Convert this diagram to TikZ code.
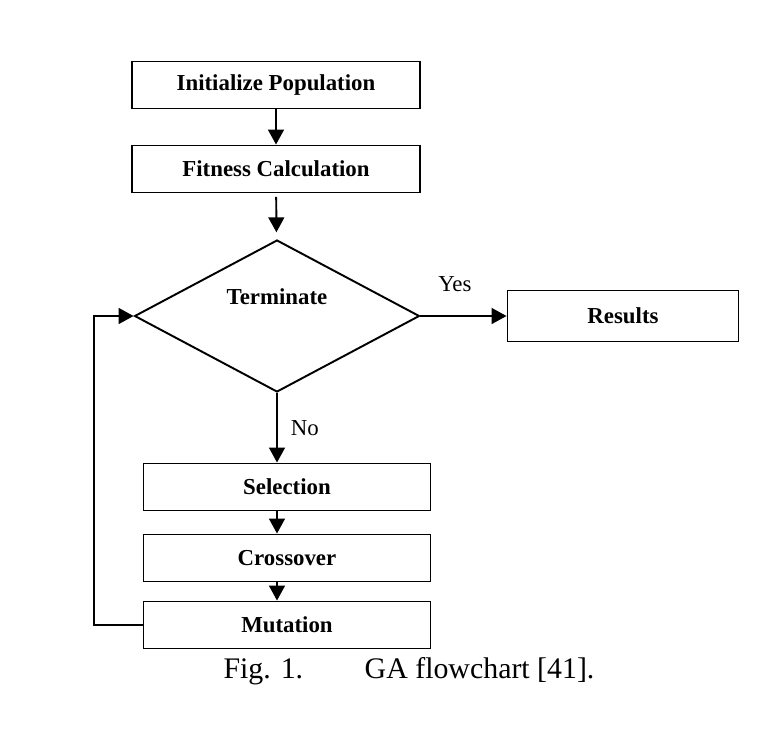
\documentclass[tikz,border=0pt]{standalone}
\usepackage{fontspec}
\setmainfont{Liberation Serif}
\usetikzlibrary{shapes.geometric,arrows.meta}
\tikzset{
	stepbox/.style={draw, line width=1.1pt, minimum width=5.76cm, minimum height=0.94cm, inner sep=0pt, font=\fontsize{13}{15}\selectfont\bfseries},
	decision/.style={draw, diamond, line width=1.1pt, minimum width=5.7cm, minimum height=3.04cm, inner sep=0pt},
	flow/.style={line width=1.1pt, -{Triangle[width=9pt,length=8.5pt]}},
	tag/.style={font=\fontsize{13}{15}\selectfont}
}
\begin{document}
\begin{tikzpicture}[x=0.02cm,y=-0.02cm]
			\useasboundingbox (0,0) rectangle (780,731);
			\node[stepbox] (init) at (276,85) {Initialize Population};
			\node[stepbox] (fit) at (276,169) {Fitness Calculation};
			\node[decision, label={[yshift=0.38cm, font=\fontsize{13}{15}\selectfont\bfseries]center:Terminate}] (term) at (277,316) {};
			\node[stepbox, minimum width=4.62cm, minimum height=1.02cm] (res) at (623,316) {Results};
			\node[stepbox, minimum width=5.74cm] (sel) at (287,487) {Selection};
			\node[stepbox, minimum width=5.74cm] (cross) at (287,558) {Crossover};
			\node[stepbox, minimum width=5.74cm] (mut) at (287,625) {Mutation};
			\coordinate (back) at (94,625);
			
			\draw[flow] (init) -- (fit);
			\draw[flow, shorten <=2pt, shorten >=4pt] (fit) -- (term);
			\draw[flow] (term.east) -- (res.west) node[tag, pos=0.4, above=10pt] {Yes};
			\draw[flow] (term.south) -- (term.south |- sel.north) node[tag, midway, right=4pt] {No};
			\draw[flow] (term.south |- sel.south) -- (term.south |- cross.north);
			\draw[flow] (term.south |- cross.south) -- (term.south |- mut.north);
			\draw[flow] (mut.west) -- (back) |- (term.west);
			
			\node[font=\fontsize{17}{20}\selectfont] (cap) at (409,671) {Fig. 1.\hspace*{35pt}GA flowchart [41].};
		\end{tikzpicture}
\end{document}
